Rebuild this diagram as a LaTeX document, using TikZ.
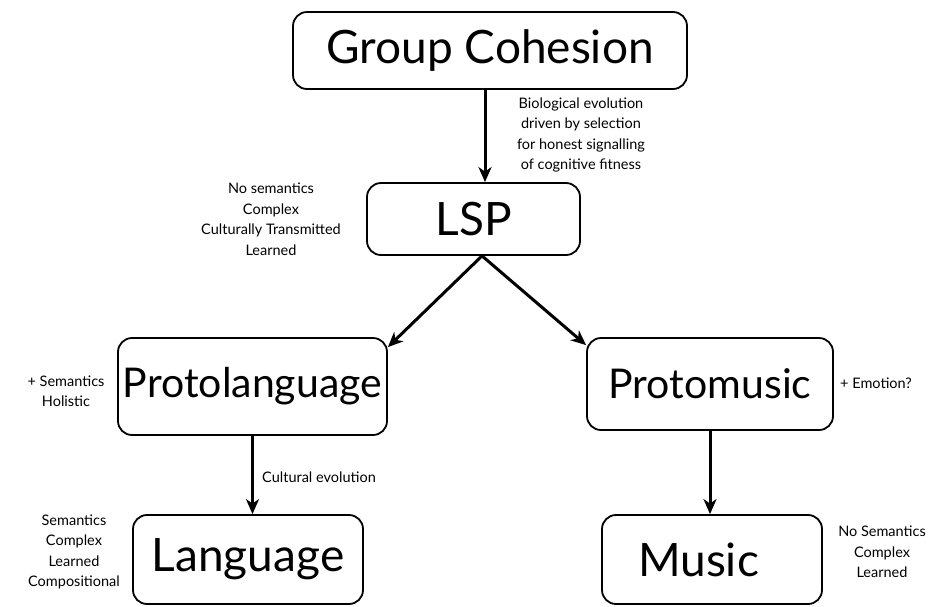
\documentclass[tikz,border=0pt]{standalone}
\usepackage{fontspec}
\setmainfont{Lato}
\usetikzlibrary{arrows.meta,positioning}
\tikzset{%
  link/.style={-{Stealth[length=15pt,width=13pt,inset=4.5pt]},line width=3pt},
  stage/.style={rectangle,draw,rounded corners=14pt,line width=1.8pt,inner sep=0pt,align=center},
  big/.style={font=\fontsize{46}{50}\selectfont},
  mid/.style={font=\fontsize{41}{46}\selectfont},
  note/.style={align=center,inner sep=0pt,font=\fontsize{14.5}{20.5}\selectfont}
}
\begin{document}
\begin{tikzpicture}[x=1pt,y=-1pt]
 \useasboundingbox (0,0) rectangle (933,606);

 % the stages
 \node[stage,big,minimum width=394pt,minimum height=77pt] (gc) at (490,50.5) {Group Cohesion};
 \node[stage,big,minimum width=213pt,minimum height=72pt] (lsp) at (473.5,219) {LSP};
 \node[stage,mid,minimum width=269pt,minimum height=97pt] (plang) at (252.5,386.5) {Protolanguage};
 \node[stage,mid,minimum width=246pt,minimum height=92pt] (pmus) at (710,384) {Protomusic};
 \node[stage,big,minimum width=230pt,minimum height=89pt] (lang) at (248,559.5) {Language};
 \node[stage,big,minimum width=220pt,minimum height=89pt] (mus) at (712,559.5) {Music\hspace*{27pt}};

 % side notes
 \node[note] (bio) at (581,135) {Biological evolution\\driven by selection\\for honest signalling\\of cognitive fitness};
 \node[note] (lspnote) at (271,219) {No semantics\\Complex\\Culturally Transmitted\\Learned};
 \node[note] (plnote) at (66,391) {+ Semantics\\Holistic};
 \node[note,anchor=west] (pmnote) at (840,383) {+ Emotion?};
 \node[note,anchor=west] (cult) at (262,477) {Cultural evolution};
 \node[note] (langnote) at (74,552) {Semantics\\Complex\\Learned\\Compositional};
 \node[note] (musnote) at (882,552) {No Semantics\\Complex\\Learned};

 \coordinate (fork) at ([xshift=8.5pt]lsp.south);

 \draw[link] ([xshift=-5pt]gc.south) -- ([xshift=-5pt]gc.south |- lsp.north);
 \draw[link] (fork) -- ([yshift=-10pt]plang.north east);
 \draw[link] (fork) -- ([yshift=-8pt]pmus.north west);
 \draw[link] (plang.south) -- (plang.south |- lang.north);
 \draw[link] (pmus.south) -- (pmus.south |- mus.north);

\end{tikzpicture}
\end{document}
